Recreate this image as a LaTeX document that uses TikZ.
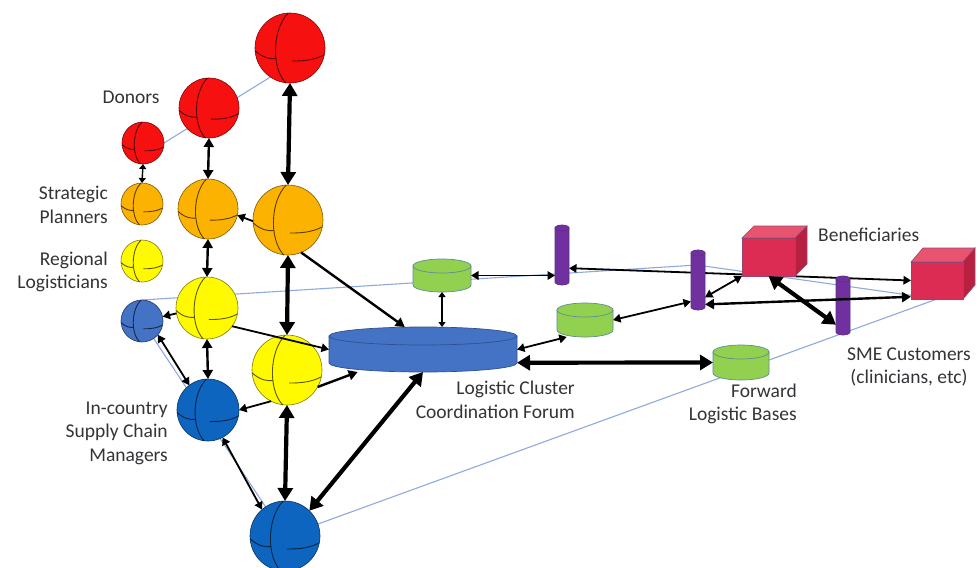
\documentclass[tikz,border=0pt]{standalone}
\usepackage{fontspec}
\setmainfont{Carlito}
\usetikzlibrary{arrows.meta,calc}
\pgfdeclarelayer{back}
\pgfdeclarelayer{under}
\pgfsetlayers{back,under,main}

\definecolor{donor}{RGB}{246,16,16}
\definecolor{planner}{RGB}{252,178,0}
\definecolor{regional}{RGB}{255,250,0}
\definecolor{incountry}{RGB}{14,101,191}
\definecolor{incountrylt}{RGB}{68,114,196}
\definecolor{forum}{RGB}{68,114,196}
\definecolor{forumedge}{RGB}{47,82,143}
\definecolor{base}{RGB}{146,208,80}
\definecolor{baseedge}{RGB}{96,140,150}
\definecolor{sme}{RGB}{112,48,160}
\definecolor{smeedge}{RGB}{90,50,130}
\definecolor{benfront}{RGB}{220,44,84}
\definecolor{bentop}{RGB}{232,84,112}
\definecolor{benside}{RGB}{184,32,64}
\definecolor{benedge}{RGB}{150,70,110}
\definecolor{plane}{RGB}{143,170,220}
\definecolor{labeltext}{RGB}{52,52,56}

\tikzset{
  globe/.style={circle, inner sep=0pt, outer sep=0pt, line width=0.6pt},
  lbl/.style={inner sep=0pt, text=labeltext, font=\fontsize{19.5}{23.5}\selectfont},
  planeline/.style={draw=plane, line width=1.1pt},
  fine/.style={line width=1.4pt, >={Triangle[length=5pt,width=7pt]}},
  wire/.style={line width=1.8pt, >={Triangle[length=7.5pt,width=8.5pt]}},
  cable/.style={line width=2.4pt, >={Triangle[length=9pt,width=10pt]}},
  trunk/.style={line width=4.2pt, >={Triangle[length=13pt,width=15pt]}},
}

% globe: name, x, y, radius, colour
\newcommand\putglobe[5]{%
  \node[globe, minimum size={2*#4pt}, fill=#5, draw=#5!50!black] (#1) at (#2,#3) {};
  \begin{scope}[shift={(#2,#3)}, x=#4pt, y=-#4pt, color=#5!35!black, line width=0.9pt]
    \draw (-0.05,-1) .. controls (-0.5,-0.55) and (-0.55,0.55) .. (-0.12,1);
    \draw (-1,0.08) .. controls (-0.75,0.3) and (-0.55,0.32) .. (-0.4,0.3);
    \draw (0.06,0.37) .. controls (0.45,0.38) and (0.75,0.32) .. (0.97,0.2);
  \end{scope}}

% upright cylinder: name, centre x, top y, bottom y, half width, ellipse radius, fill, edge
\newcommand\putdrum[8]{%
  \path[fill=#7, draw=#8, line width=0.7pt] (#2-#5,#3) -- (#2-#5,#4)
    arc[start angle=180, end angle=0, x radius=#5, y radius=#6] -- (#2+#5,#3) -- cycle;
  \path[fill=#7, draw=#8, line width=0.7pt] (#2,#3) ellipse[x radius=#5, y radius=#6];
  \node[inner sep=0pt, outer sep=0pt, minimum width={2*#5pt},
        minimum height={(#4-#3+2*#6)*1pt}] (#1) at (#2,{(#3+#4)/2}) {};}

% box in perspective: name, left, top, right, bottom, depth x, depth rise
\newcommand\putcrate[7]{%
  \path[fill=bentop, draw=benedge, line width=0.6pt]
    (#2,#3) -- (#2+#6,#3-#7) -- (#4+#6,#3-#7) -- (#4,#3) -- cycle;
  \path[fill=benside, draw=benedge, line width=0.6pt]
    (#4,#3) -- (#4+#6,#3-#7) -- (#4+#6,#5-#7) -- (#4,#5) -- cycle;
  \node[draw=benedge, fill=benfront, line width=0.6pt, inner sep=0pt, outer sep=0pt,
        minimum width={(#4-#2)*1pt}, minimum height={(#5-#3)*1pt}]
        (#1) at ({(#2+#4)/2},{(#3+#5)/2}) {};}

\begin{document}
\begin{tikzpicture}[x=1pt, y=-1pt]
\useasboundingbox (0,0) rectangle (978,568);

% actor groups
\putglobe{R1}{143}{143}{21}{donor}
\putglobe{R2}{209}{108}{30}{donor}
\putglobe{R3}{290}{48}{35}{donor}
\putglobe{O1}{142}{204}{21}{planner}
\putglobe{O2}{208}{209}{30}{planner}
\putglobe{O3}{288}{220}{35}{planner}
\putglobe{Y1}{142}{261}{21}{regional}
\putglobe{Y2}{207}{308}{31}{regional}
\putglobe{Y3}{287}{370}{35}{regional}
\putglobe{B1}{142}{321}{21}{incountrylt}
\putglobe{B2}{208}{410}{31}{incountry}
\putglobe{B3}{285}{536}{35}{incountry}

% coordination forum, logistic bases and SME customers
\putdrum{forum}{423}{336}{363}{94}{9}{forum}{forumedge}
\putdrum{G1}{442}{266}{285}{29}{7}{base}{baseedge}
\putdrum{G2}{585}{310}{330}{28}{7}{base}{baseedge}
\putdrum{G3}{741}{352}{373}{28}{7}{base}{baseedge}
\putdrum{P1}{562}{228}{282}{7}{3}{sme}{smeedge}
\putdrum{P2}{698}{253}{307}{7}{3}{sme}{smeedge}
\putdrum{P3}{843}{279}{332}{7}{3}{sme}{smeedge}

% beneficiaries
\putcrate{ben1}{742}{238}{795}{276}{12}{12}
\putcrate{ben2}{911}{262}{963}{299}{12}{14}

% white page and the thin guide lines behind everything
\begin{pgfonlayer}{back}
  \fill[white] (0,0) rectangle (978,568);
  \coordinate (apex) at (697,265);
  \draw[planeline] (R1.east) -- (R3.236);
  \draw[planeline] (B1.north) -- (apex) -- (ben2.south) -- (B3.center) -- (B1.center);
\end{pgfonlayer}

% link that runs behind the column and the box
\begin{pgfonlayer}{under}
  \draw[wire,<->] (P1.-62) -- (ben2.west);
\end{pgfonlayer}

% vertical links between levels
\draw[fine,<->]  (R1.south) -- (O1.north);
\draw[cable,<->] (R2.south) -- (O2.north);
\draw[trunk,<->] (R3.south) -- (O3.north);
\draw[cable,<->] (O2.south) -- (Y2.north);
\draw[trunk,<->] (O3.south) -- (Y3.north);
\draw[cable,<->] (Y2.south) -- (B2.north);
\draw[trunk,<->] (Y3.south) -- (B3.north);

% cross links
\draw[wire,->]   (O3.182) -- (O2.-12);
\draw[cable,->]  (O3.-68) -- (forum.129);
\draw[wire,->]   (Y2.190) -- (B1.12);
\draw[wire,->]   (Y2.-36) -- (forum.west);
\draw[wire,->]   (Y3.-117) -- (B2.east);
\draw[cable,->]  (Y3.-29) -- (forum.199);
\draw[wire,<->]  (B2.-62) -- (B3.131);
\draw[wire,<->]  (B1.-41) -- (B2.127);
\draw[trunk,<->] (forum.south) -- (B3.46);

% forum to bases and customers
\draw[fine,<->]  (G1.south) -- (G1.south |- forum.north);
\draw[wire,<->]  (G1.east) -- (G1.east -| P1.west);
\draw[wire,<->]  (G2.east) -- (P2.-108);
\draw[wire,<->]  (forum.east) -- (G2.223);
\draw[trunk,<->] (forum.-8) -- (G3.west);
\draw[wire,<->]  (P2.-68) -- (ben1.south west);
\draw[cable,<->] (P2.-74) -- (ben2.212);
\draw[trunk,<->] (ben1.south) -- (P3.250);

% labels
\node[lbl] (lDonors) at (131,97) {Donors};
\node[lbl, align=right, anchor=east] (lPlanners) at (108,205) {Strategic\\Planners};
\node[lbl, align=right, anchor=east] (lRegional) at (108,272) {Regional\\Logisticians};
\node[lbl, align=right, anchor=east] (lInCountry) at (168,433) {In-country\\Supply Chain\\Managers};
\node[lbl, align=right, anchor=east] (lForum) at (575,400) {Logistic Cluster\\Coordination Forum};
\node[lbl, align=right, anchor=east] (lBases) at (797,404) {Forward\\Logistic Bases};
\node[lbl, align=center] (lSME) at (909,367) {SME Customers\\(clinicians, etc)};
\node[lbl, anchor=west] (lBen) at (818,235) {Beneficiaries};
\end{tikzpicture}
\end{document}
